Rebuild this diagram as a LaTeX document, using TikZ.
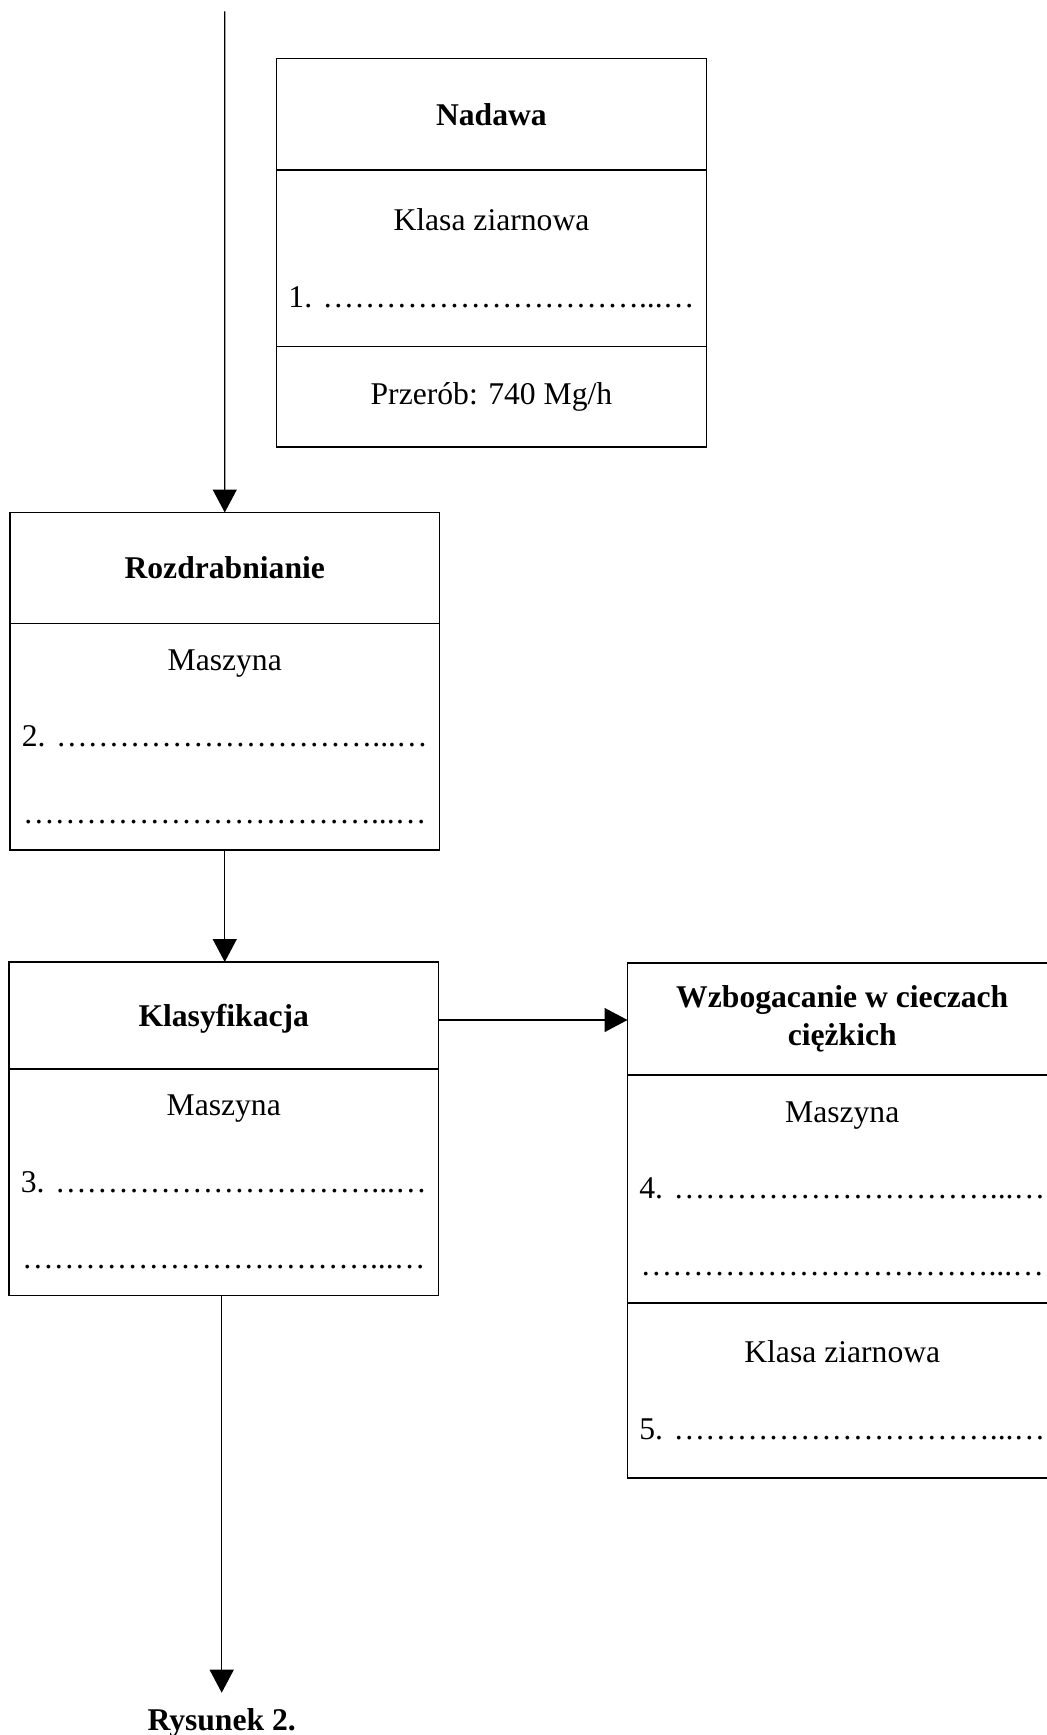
\documentclass[tikz,border=0pt]{standalone}
\usepackage{fontspec}
\setmainfont{Liberation Serif}
\usetikzlibrary{positioning,arrows.meta}

\newcommand{\kr}{…}
\newcommand{\kropki}{\kr\kr\kr\kr\kr\kr\kr\kr\kr\kr...\kr}

\begin{document}
\begin{tikzpicture}[
    cell/.style={draw, rectangle, line width=0.8pt, minimum width=8.59cm, inner sep=0.2cm, outer sep=0pt, align=center},
    headcell/.style={cell, font=\fontsize{18pt}{22pt}\selectfont\bfseries},
    bodycell/.style={cell, font=\fontsize{18pt}{43.5pt}\selectfont},
    flow/.style={line width=0.8pt, -{Triangle[length=0.46cm, width=0.48cm]}}
]
    \useasboundingbox (0,0) rectangle (20.92,-34.70);

    % Nadawa
    \node[headcell, minimum height=2.226cm, anchor=north west] (nadhead) at (5.534,-1.174) {Nadawa};
    \node[bodycell, minimum height=3.53cm, below=0pt of nadhead] (nadbody) {Klasa ziarnowa\\1. \kropki};
    \node[bodycell, minimum height=2.01cm, below=0pt of nadbody] (nadfoot) {Przerób: 740 Mg/h};

    % Rozdrabnianie
    \node[headcell, minimum height=2.216cm, anchor=north west] (rozhead) at (0.2,-10.25) {Rozdrabnianie};
    \node[bodycell, minimum height=4.534cm, below=0pt of rozhead] (rozbody) {Maszyna\\2. \kropki\\\kr\kropki};

    % Klasyfikacja
    \node[headcell, minimum height=2.14cm, anchor=north west, text depth=0pt] (klashead) at (0.18,-19.24) {Klasyfikacja};
    \node[bodycell, minimum height=4.53cm, below=0pt of klashead] (klasbody) {Maszyna\\3. \kropki\\\kr\kropki};

    % Wzbogacanie
    \node[headcell, minimum height=2.236cm, anchor=north west] (wzhead) at (12.55,-19.26) {Wzbogacanie w cieczach\\ciężkich};
    \node[bodycell, minimum height=4.56cm, below=0pt of wzhead] (wzbody) {Maszyna\\4. \kropki\\\kr\kropki};
    \node[bodycell, minimum height=3.5cm, below=0pt of wzbody] (wzfoot) {Klasa ziarnowa\\5. \kropki};

    \coordinate (feed) at (4.495,-0.23);
    \node[font=\fontsize{18pt}{22pt}\selectfont\bfseries, inner sep=0.3cm, anchor=base] (rys) at (4.434,-34.6) {Rysunek 2.};

    \draw[flow] (feed) -- (rozhead.north);
    \draw[flow] (rozbody.south) -- (rozbody.south |- klashead.north);
    \draw[flow] ([yshift=-0.09cm]klashead.east) -- ([yshift=-0.09cm]klashead.east -| wzhead.west);
    \draw[flow] (rys.north |- klasbody.south) -- (rys.north);
\end{tikzpicture}
\end{document}
